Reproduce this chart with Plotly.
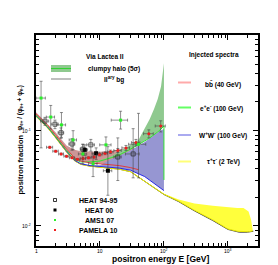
import math
import plotly.graph_objects as go

# ---------------- data ----------------
# secondary background
E_bg = [1, 1.5, 2, 3, 4, 5, 7, 10, 15, 20, 30, 50, 100, 170, 300, 580, 1000, 1500, 2000, 2500]
f_bg = [0.143, 0.109, 0.086, 0.060, 0.0485, 0.0445, 0.0425, 0.0415, 0.0405, 0.0395, 0.0372, 0.0295,
        0.0214, 0.0180, 0.0144, 0.0114, 0.0092, 0.0086, 0.0086, 0.0088]

# b bbar (40 GeV)
E_bb = [1, 1.5, 2, 3, 4, 5, 7, 10, 15, 20, 30, 40]
bb_lo = [0.150, 0.115, 0.091, 0.064, 0.052, 0.048, 0.046, 0.045, 0.044, 0.043, 0.041, 0.039]
bb_hi = [0.156, 0.119, 0.097, 0.070, 0.063, 0.061, 0.060, 0.060, 0.061, 0.064, 0.066, 0.066]

# W+W- (100 GeV)
E_ww = [1, 1.5, 2, 3, 4, 5, 7, 10, 15, 20, 30, 50, 70, 85, 100]
ww_lo = [0.144, 0.110, 0.087, 0.061, 0.049, 0.045, 0.043, 0.042, 0.0415, 0.0405, 0.0385, 0.033, 0.028, 0.0255, 0.0235]
ww_hi = [0.144, 0.110, 0.087, 0.061, 0.049, 0.045, 0.043, 0.0435, 0.050, 0.055, 0.062, 0.076, 0.089, 0.099, 0.104]

# e+e- (100 GeV)
E_ee = [1, 1.5, 2, 3, 4, 5, 7, 10, 15, 20, 30, 40, 50, 60, 70, 80, 90, 100]
ee_lo = [0.145, 0.111, 0.088, 0.062, 0.050, 0.047, 0.047, 0.048, 0.052, 0.0555, 0.064, 0.071, 0.078,
         0.084, 0.090, 0.097, 0.104, 0.112]
ee_hi = [0.145, 0.111, 0.088, 0.062, 0.050, 0.047, 0.047, 0.049, 0.054, 0.060, 0.071, 0.080, 0.104,
         0.133, 0.169, 0.215, 0.290, 0.510]
ee_cut_E = [100, 100]
ee_cut_f = [0.112, 0.0304]

# tau+tau- (2 TeV)
E_tt = [1, 1.5, 2, 3, 4, 5, 7, 10, 15, 20, 30, 50, 100, 170, 300, 580, 1000, 1400, 1750, 2100, 2300, 2450]
tt_lo = [0.141, 0.108, 0.085, 0.0598, 0.0484, 0.0443, 0.0424, 0.0414, 0.0404, 0.0394, 0.0371, 0.0295,
         0.0215, 0.0182, 0.0146, 0.0116, 0.0093, 0.0088, 0.0087, 0.0087, 0.0088, 0.0089]
tt_hi = [0.141, 0.108, 0.085, 0.0598, 0.0484, 0.0443, 0.0424, 0.0414, 0.0404, 0.0394, 0.0371, 0.0296,
         0.0218, 0.0190, 0.0172, 0.0163, 0.0157, 0.0154, 0.0154, 0.0142, 0.0116, 0.0091]

# experimental data
E_h95 = [1.38, 1.98, 2.46, 3.65, 5.4, 7.2, 19.0, 33.0]
f_h95 = [0.126, 0.117, 0.095, 0.0725, 0.064, 0.071, 0.053, 0.057]
h95_up = [0.012, 0.012, 0.012, 0.010, 0.008, 0.010, 0.031, 0.048]
h95_dn = [0.012, 0.012, 0.012, 0.010, 0.008, 0.010, 0.023, 0.025]
h95_dx = [0.2, 0.25, 0.25, 0.4, 0.5, 1.0, 2.5, 8.0]

E_h00 = [5.8, 8.7, 13.3]
f_h00 = [0.063, 0.058, 0.038]
h00_up = [0.008, 0.008, 0.030]
h00_dn = [0.008, 0.008, 0.017]
h00_dx = [0.6, 1.2, 2.0]

E_ams = [1.2, 1.7, 2.5, 3.8, 5.4, 7.8, 12.4, 21.0, 40.0]
f_ams = [0.220, 0.139, 0.115, 0.080, 0.057, 0.045, 0.071, 0.129, 0.072]
ams_up = [0.110, 0.045, 0.040, 0.020, 0.015, 0.012, 0.015, 0.031, 0.080]
ams_dn = [0.154, 0.035, 0.030, 0.017, 0.012, 0.012, 0.012, 0.025, 0.040]
ams_dx = [0.2, 0.25, 0.4, 0.5, 0.8, 1.2, 2.5, 6.0, 12.0]

E_pam = [1.64, 2.03, 2.47, 3.0, 3.66, 4.45, 5.43, 6.62, 8.07, 9.84, 12.0, 14.6, 19.0, 25.5, 36.5, 58.0, 89.0]
f_pam = [0.067, 0.061, 0.057, 0.054, 0.052, 0.050, 0.051, 0.052, 0.053, 0.056, 0.058, 0.060, 0.062,
         0.066, 0.075, 0.093, 0.112]
pam_dy = [0.0015, 0.0013, 0.0012, 0.0011, 0.001, 0.001, 0.001, 0.0012, 0.0014, 0.0017, 0.002, 0.0025,
          0.003, 0.004, 0.006, 0.009, 0.015]
pam_dx = [0.18, 0.2, 0.22, 0.27, 0.33, 0.4, 0.5, 0.6, 0.75, 0.9, 1.1, 1.4, 2.5, 3.5, 5.5, 10.0, 16.0]

# axis ticks
x_tickvals = [1, 10, 100, 1000]
x_ticktext = ["1", "10", "10<sup>2</sup>", "10<sup>3</sup>"]
y_tickvals = [0.01, 0.1]
y_ticktext = ["10<sup>-2</sup>", "10<sup>-1</sup>"]

# ---------------- figure ----------------
W, H = 278, 265
L, R, T, B = 28, 250, 27, 238

fig = go.Figure()


def band(E, lo, hi, color):
    xs = list(E) + list(E)[::-1]
    ys = list(hi) + list(lo)[::-1]
    fig.add_trace(go.Scatter(x=xs, y=ys, mode="lines", fill="toself", fillcolor=color,
                             line=dict(width=0), hoverinfo="skip", showlegend=False))


def line(E, f, color, width=1.0):
    fig.add_trace(go.Scatter(x=E, y=f, mode="lines", line=dict(color=color, width=width),
                             hoverinfo="skip", showlegend=False))


band(E_bb, bb_lo, bb_hi, "rgb(204,150,150)")
band(E_ww, ww_lo, ww_hi, "rgb(150,150,210)")
band(E_ee, ee_lo, ee_hi, "rgb(143,201,143)")
band(E_tt, tt_lo, tt_hi, "rgb(255,255,60)")

line(E_bg, f_bg, "#444444", 1.0)
line(E_tt, tt_lo, "rgb(235,235,0)", 1.0)
line(E_ww, ww_lo, "rgb(40,40,230)", 1.0)
line(E_ee, ee_lo, "rgb(50,225,50)", 1.0)
line(ee_cut_E, ee_cut_f, "rgb(50,225,50)", 1.0)
line(E_bb, bb_lo, "rgb(225,60,60)", 1.0)


def data(E, f, up, dn, dx, marker):
    fig.add_trace(go.Scatter(
        x=E, y=f, mode="markers", marker=marker, showlegend=False,
        error_y=dict(type="data", symmetric=False, array=up, arrayminus=dn,
                     color="#444444", thickness=0.6, width=1.5),
        error_x=dict(type="data", array=dx, color="#444444", thickness=0.6, width=1.5)))


data(E_h95, f_h95, h95_up, h95_dn, h95_dx,
     dict(symbol="square-open", size=4, color="#222222", line=dict(width=0.7, color="#222222")))
data(E_h00, f_h00, h00_up, h00_dn, h00_dx,
     dict(symbol="square", size=4, color="black"))
data(E_pam, f_pam, pam_dy, pam_dy, pam_dx,
     dict(symbol="circle", size=3, color="rgb(240,30,30)"))
data(E_ams, f_ams, ams_up, ams_dn, ams_dx,
     dict(symbol="square", size=3, color="rgb(40,240,40)"))

minor_x = [m * 10 ** k for k in range(0, 4) for m in range(2, 10)]
minor_y = [m * 10 ** k for k in (-3, -2, -1) for m in range(2, 10)]

fig.update_xaxes(type="log", range=[0, 3.47], showline=True, linecolor="black", linewidth=1.5,
                 mirror="allticks", ticks="inside", ticklen=5, tickwidth=1, tickcolor="black",
                 tickmode="array", tickvals=x_tickvals, showticklabels=False,
                 showgrid=False, zeroline=False,
                 minor=dict(tickmode="array", tickvals=minor_x, ticks="inside", ticklen=3,
                            tickwidth=1, tickcolor="black", showgrid=False))
fig.update_yaxes(type="log", range=[-2.21, 0.004], showline=True, linecolor="black", linewidth=1.5,
                 mirror="allticks", ticks="inside", ticklen=5, tickwidth=1, tickcolor="black",
                 tickmode="array", tickvals=y_tickvals, showticklabels=False,
                 showgrid=False, zeroline=False,
                 minor=dict(tickmode="array", tickvals=minor_y, ticks="inside", ticklen=3,
                            tickwidth=1, tickcolor="black", showgrid=False))


def px(x):
    return (x - L) / (R - L)


def py(y):
    return (B - y) / (B - T)


FONT = "Liberation Sans"
ann = []

# tick labels placed on the axes' own (log) coordinates
for v, s in zip(x_tickvals, x_ticktext):
    ann.append(dict(x=math.log10(v), y=py(243), xref="x", yref="paper", text=s, showarrow=False,
                    xanchor="center", yanchor="middle",
                    font=dict(family=FONT, size=5, color="black")))
for v, s in zip(y_tickvals, y_ticktext):
    ann.append(dict(x=px(24.5), y=math.log10(v), xref="paper", yref="y", text=s, showarrow=False,
                    xanchor="right", yanchor="middle",
                    font=dict(family=FONT, size=5, color="black")))


def text(x, y, s, size=6.5, angle=0, xanchor="center"):
    ann.append(dict(x=px(x), y=py(y), xref="paper", yref="paper", text=s, showarrow=False,
                    xanchor=xanchor, yanchor="middle", textangle=angle,
                    font=dict(family=FONT, size=size, color="black")))


shapes = []


def hline(x0, x1, y, color, width):
    shapes.append(dict(type="line", xref="paper", yref="paper", x0=px(x0), x1=px(x1),
                       y0=py(y), y1=py(y), line=dict(color=color, width=width)))


def rect(x0, y0, x1, y1, fill, lc=None, lw=0):
    shapes.append(dict(type="rect", xref="paper", yref="paper", x0=px(x0), x1=px(x1),
                       y0=py(y1), y1=py(y0), fillcolor=fill,
                       line=dict(color=lc if lc else fill, width=lw)))


# left-top legend
text(97, 49, "<b>Via Lactea II</b>", 6.5)
rect(43, 57, 63, 64, "rgb(143,201,143)")
hline(43, 63, 60.5, "rgb(50,210,50)", 1)
text(106, 60.5, "<b>clumpy halo (5σ)</b>", 6.5)
hline(43, 63, 71, "#aaaaaa", 1.5)
text(106, 71, "<b>II<sup>ary</sup> bg</b>", 6.5)

# right legend
text(206, 47, "<b>Injected spectra</b>", 6.5)
hline(170, 183, 74.5, "rgb(255,170,170)", 2)
text(215, 76, "<b>bb\u0304 (40 GeV)</b>", 6.5)
hline(170, 183, 99.5, "rgb(100,255,100)", 2)
text(213, 100, "<b>e<sup>+</sup>e<sup>-</sup> (100 GeV)</b>", 6.5)
hline(170, 183, 127, "rgb(170,170,240)", 2)
text(215, 127, "<b>W<sup>+</sup>W<sup>-</sup> (100 GeV)</b>", 6.5)
hline(170, 183, 153.5, "rgb(255,255,120)", 2)
text(215, 153, "<b>τ<sup>+</sup>τ<sup>-</sup> (2 TeV)</b>", 6.5)

# bottom-left legend
rect(45.5, 190.5, 48.5, 193.5, "white", "black", 0.8)
text(90, 192.5, "<b>HEAT 94-95</b>", 7)
rect(45.5, 200.5, 48.5, 203.5, "black")
text(91, 202, "<b>HEAT 00</b>", 7)
rect(46, 211, 48, 213, "rgb(40,240,40)")
text(91, 212, "<b>AMS1 07</b>", 7)
rect(46, 221, 48, 223, "rgb(240,30,30)")
text(90, 222, "<b>PAMELA 10</b>", 7)

# axis titles
text(152, 251, "<b>positron energy E [GeV]</b>", 8.5)
text(12.5, 157, "<b>positron fraction</b>", 7.5, angle=-90)
text(11.5, 100, "<b>φ<sub>e+</sub> / (φ<sub>e+</sub> + φ<sub>e-</sub>)</b>", 6.5, angle=-90)

fig.update_layout(width=W, height=H, autosize=False,
                  margin=dict(l=L, r=W - R, t=T, b=H - B, pad=0),
                  paper_bgcolor="white", plot_bgcolor="white",
                  showlegend=False, annotations=ann, shapes=shapes)

fig.write_html("out.html")
